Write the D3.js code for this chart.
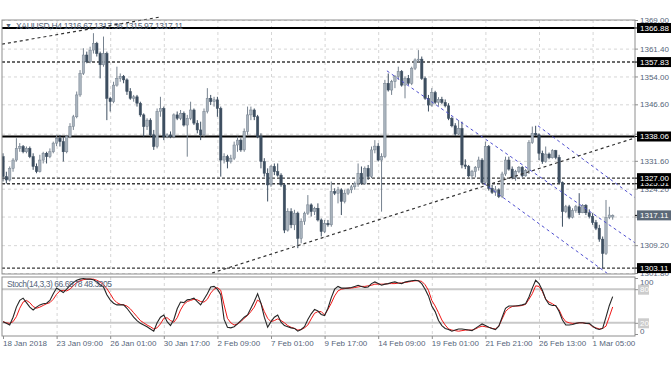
<!DOCTYPE html>
<html>
<head>
<meta charset="utf-8">
<script src="https://cdn.jsdelivr.net/npm/d3@7"></script>
<style>
  body { margin: 0; background: #fff; }
  svg { display: block; font-family: "Liberation Sans", Arial, sans-serif; }
</style>
</head>
<body>
<script>
// XAUUSD H4 bars, [open, high, low, close]
var candles = [
  [1332.7,1333.6,1326.1,1327.4],[1327.4,1328.7,1325.6,1326.5],[1326.5,1330.1,1326.1,1329.6],[1329.6,1332.3,1328.7,1331.8],[1331.8,1337.6,1331.4,1334.9],
  [1334.9,1336.3,1334.0,1335.4],[1335.4,1335.8,1333.6,1334.0],[1334.0,1335.4,1333.6,1334.9],[1334.9,1335.4,1332.3,1332.7],[1332.7,1333.6,1329.2,1330.1],
  [1330.1,1330.9,1328.3,1328.7],[1328.7,1333.2,1328.5,1331.8],[1331.8,1334.0,1330.9,1333.6],[1333.6,1334.0,1330.9,1332.7],[1332.7,1334.9,1332.3,1334.0],
  [1334.0,1336.7,1333.6,1336.3],[1336.3,1338.5,1335.5,1337.6],[1337.6,1338.5,1335.4,1336.7],[1336.7,1338.0,1331.4,1334.0],[1334.0,1338.5,1333.6,1338.0],
  [1338.0,1341.6,1337.6,1340.7],[1340.7,1343.8,1339.8,1343.3],[1343.3,1350.0,1342.9,1349.1],[1349.1,1355.7,1348.6,1354.8],[1354.8,1361.5,1354.4,1359.7],
  [1359.7,1360.6,1357.5,1357.9],[1357.9,1361.9,1357.5,1361.0],[1361.0,1365.5,1360.1,1362.8],[1362.8,1363.2,1359.3,1360.1],[1360.1,1360.6,1353.5,1357.1],
  [1357.1,1364.6,1356.6,1360.1],[1360.1,1360.6,1342.4,1348.2],[1348.2,1348.6,1344.7,1347.3],[1347.3,1352.6,1346.9,1351.7],[1351.7,1356.6,1351.3,1353.5],
  [1353.5,1354.8,1352.6,1354.0],[1354.0,1354.4,1352.2,1353.1],[1353.1,1353.5,1349.1,1350.0],[1350.0,1350.9,1347.8,1348.2],[1348.2,1349.1,1347.3,1348.6],
  [1348.6,1349.1,1346.0,1346.9],[1346.9,1347.3,1343.3,1343.8],[1343.8,1344.2,1338.0,1340.7],[1340.7,1342.9,1339.8,1342.4],[1342.4,1342.9,1338.0,1338.5],
  [1338.5,1339.8,1334.5,1335.4],[1335.4,1345.5,1334.9,1344.7],[1344.7,1348.6,1343.3,1345.5],[1345.5,1346.0,1337.1,1338.0],[1338.0,1338.9,1337.6,1338.5],
  [1338.5,1339.4,1337.6,1338.0],[1338.0,1344.2,1337.6,1343.8],[1343.8,1344.7,1342.4,1342.9],[1342.9,1345.1,1342.4,1344.2],[1344.2,1344.7,1340.7,1341.1],
  [1341.1,1343.8,1332.7,1342.9],[1342.9,1347.3,1342.4,1345.1],[1345.1,1345.5,1341.1,1341.6],[1341.6,1342.4,1338.9,1339.8],[1339.8,1342.0,1337.1,1338.5],
  [1338.5,1345.5,1338.0,1344.7],[1344.7,1350.9,1344.2,1348.2],[1348.2,1349.1,1346.4,1347.3],[1347.3,1348.6,1346.0,1347.8],[1347.8,1348.6,1343.3,1345.5],
  [1345.5,1346.0,1327.4,1331.8],[1331.8,1333.6,1330.9,1332.7],[1332.7,1333.2,1329.6,1331.4],[1331.4,1333.2,1330.9,1332.3],[1332.3,1336.7,1331.8,1335.8],
  [1335.8,1338.0,1334.0,1337.1],[1337.1,1337.6,1334.0,1334.5],[1334.5,1340.2,1334.0,1339.4],[1339.4,1346.0,1338.5,1343.8],[1343.8,1346.0,1342.4,1345.1],
  [1345.1,1345.5,1342.4,1343.3],[1343.3,1343.8,1337.6,1338.0],[1338.0,1338.9,1329.6,1331.4],[1331.4,1332.3,1327.4,1328.3],[1328.3,1329.6,1320.8,1325.2],
  [1325.2,1330.5,1324.7,1330.1],[1330.1,1330.9,1327.8,1328.7],[1328.7,1330.9,1327.4,1327.8],[1327.8,1328.3,1324.7,1325.2],[1325.2,1325.6,1312.4,1313.2],
  [1313.2,1319.0,1312.8,1318.1],[1318.1,1319.0,1313.7,1314.6],[1314.6,1318.6,1313.2,1317.7],[1317.7,1318.1,1308.4,1311.0],[1311.0,1316.3,1309.7,1315.5],
  [1315.5,1318.1,1314.6,1317.7],[1317.7,1322.5,1317.2,1319.9],[1319.9,1320.3,1316.8,1318.1],[1318.1,1319.4,1317.2,1319.0],[1319.0,1320.3,1315.5,1315.9],
  [1315.9,1316.3,1311.5,1312.8],[1312.8,1315.9,1312.4,1315.0],[1315.0,1315.9,1314.1,1314.6],[1314.6,1326.1,1314.1,1323.4],[1323.4,1324.3,1322.5,1323.0],
  [1323.0,1324.7,1320.3,1323.9],[1323.9,1324.3,1317.2,1320.8],[1320.8,1323.9,1320.3,1323.0],[1323.0,1324.3,1322.5,1323.9],[1323.9,1325.2,1323.0,1324.7],
  [1324.7,1326.1,1323.9,1325.6],[1325.6,1330.9,1324.7,1328.3],[1328.3,1330.1,1325.2,1325.6],[1325.6,1330.1,1325.2,1329.6],[1329.6,1330.5,1326.5,1327.4],
  [1327.4,1335.4,1327.0,1334.5],[1334.5,1337.1,1333.6,1335.5],[1335.5,1336.3,1331.4,1331.8],[1331.8,1333.6,1318.1,1332.7],[1332.7,1353.1,1332.3,1352.2],
  [1352.2,1354.8,1350.0,1350.4],[1350.4,1353.1,1349.1,1352.6],[1352.6,1354.4,1350.9,1354.0],[1354.0,1356.6,1353.1,1355.3],[1355.3,1355.7,1351.3,1351.7],
  [1351.7,1354.0,1348.2,1353.5],[1353.5,1354.4,1351.7,1352.2],[1352.2,1356.6,1351.7,1356.2],[1356.2,1358.8,1355.7,1358.4],[1358.4,1361.0,1357.7,1358.6],
  [1358.6,1359.3,1353.1,1353.5],[1353.5,1354.0,1347.8,1348.2],[1348.2,1349.1,1344.7,1346.4],[1346.4,1350.9,1346.0,1349.7],[1349.7,1350.2,1346.7,1347.1],
  [1347.1,1348.5,1346.2,1347.9],[1347.9,1348.6,1346.7,1347.1],[1347.1,1347.9,1345.8,1346.2],[1346.2,1346.9,1342.4,1342.9],[1342.9,1343.3,1340.5,1340.9],
  [1340.9,1341.6,1338.2,1338.7],[1338.7,1342.4,1338.4,1340.2],[1340.2,1342.0,1329.6,1330.5],[1330.5,1332.0,1329.4,1330.1],[1330.1,1330.5,1327.2,1327.6],
  [1327.6,1329.2,1326.7,1328.7],[1328.7,1330.2,1327.2,1329.9],[1329.9,1332.7,1329.0,1331.8],[1331.8,1332.3,1325.5,1325.8],[1325.8,1336.7,1325.5,1335.4],
  [1335.4,1335.8,1323.7,1324.3],[1324.3,1325.2,1322.8,1323.2],[1323.2,1324.9,1322.3,1323.9],[1323.9,1324.3,1321.7,1322.1],[1322.1,1328.7,1321.7,1328.1],
  [1328.1,1332.7,1327.6,1331.8],[1331.8,1332.7,1329.0,1329.4],[1329.4,1330.1,1326.7,1327.2],[1327.2,1329.2,1326.3,1328.7],[1328.7,1330.2,1328.3,1329.9],
  [1329.9,1330.2,1327.2,1327.6],[1327.6,1329.4,1327.4,1329.0],[1329.0,1337.1,1328.1,1336.4],[1336.4,1340.7,1336.1,1338.9],[1338.9,1340.9,1338.2,1338.5],
  [1338.5,1338.9,1331.8,1333.6],[1333.6,1334.3,1330.8,1331.4],[1331.4,1335.4,1331.1,1333.4],[1333.4,1333.8,1332.0,1332.4],[1332.4,1334.7,1332.2,1334.3],
  [1334.3,1334.5,1332.0,1332.5],[1332.5,1333.2,1325.5,1325.8],[1325.8,1326.1,1314.1,1318.1],[1318.1,1319.9,1317.7,1319.4],[1319.4,1319.9,1316.1,1316.6],
  [1316.6,1319.0,1316.3,1318.4],[1318.4,1319.9,1317.8,1319.4],[1319.4,1323.0,1317.2,1317.8],[1317.8,1320.1,1317.7,1319.8],[1319.8,1320.1,1317.2,1317.8],
  [1317.8,1318.7,1316.3,1316.8],[1316.8,1317.7,1314.6,1315.2],[1315.2,1315.9,1313.2,1313.7],[1313.7,1314.6,1310.1,1310.8],[1310.8,1311.5,1303.1,1307.0],
  [1307.0,1321.2,1306.6,1316.6],[1316.6,1319.4,1316.1,1317.2],[1316.67,1317.36,1315.97,1317.11]
];

// Stoch(14,3,3): main (%K) and signal (%D), one value per bar
var stochK = [
  22,19,16,30,48,60,64,56,48,43, 48,52,54,55,60,72,82,78,74,80,
  87,92,96,98,99,98,98,97,93,88, 84,70,61,55,52,52,52,46,38,30,
  24,19,16,13,9,5,20,30,34,22, 15,26,45,57,56,61,62,64,58,52,
  62,72,84,85,80,70,26,
  12,11,13,18,24,30,34,46,58,72, 55,30,12,22,30,34,21,15,13,11,
  10,5,8,13,26,36,44,41,35,33, 46,65,80,85,82,82,82,83,85,87,
  85,83,84,90,93,90,87,89,90,92, 93,91,90,93,94,95,96,95,90,80,
  68,50,40,24,15,10,8,5,7,9, 9,8,7,6,10,14,18,15,12,10,
  8,14,30,46,50,50,50,51,52,54, 66,82,96,90,78,62,53,51,51,40,
  25,16,16,17,19,20,20,19,19,14, 10,8,10,30,51,66.7
];
var stochD = [
  22,20,19,22,31,46,57,60,56,49, 46,48,51,54,56,62,71,77,78,77,
  80,86,92,95,97,98,98,98,96,93, 88,81,72,62,56,53,52,50,45,38,
  31,24,20,16,13,9,11,18,28,29, 24,21,29,43,53,58,60,62,61,58,
  57,62,73,80,83,78,52,
  28,20,16,18,22,28,33,40,48,61, 55,40,28,22,24,27,24,20,15,12,
  10,7,8,11,16,27,37,40,40,34, 44,55,68,77,80,81,82,82,83,84,
  85,85,86,87,89,89,89,89,90,90, 90,91,91,92,93,94,95,95,94,88,
  78,60,50,38,25,16,9,7,6,5, 6,7,7,7,9,12,14,13,12,10,
  9,14,27,40,46,49,50,50,51,53, 62,72,86,85,76,62,57,54,50,43,
  30,22,20,19,19,20,20,19,18,13, 11,9,10,14,31,48.3
];

var priceTicks = [1369.00, 1361.40, 1354.00, 1346.60, 1338.80, 1331.60, 1324.20, 1316.80, 1309.20, 1301.80];
var dateTickBars = [0, 16, 32, 48, 64, 80, 96, 112, 128, 144, 160, 176];
var dateLabels = ["18 Jan 2018", "23 Jan 09:00", "26 Jan 01:00", "30 Jan 17:00", "2 Feb 09:00", "7 Feb 01:00",
                  "9 Feb 17:00", "14 Feb 09:00", "19 Feb 01:00", "21 Feb 21:00", "26 Feb 13:00", "1 Mar 05:00"];

var solidLevels = [1366.88, 1338.06];
var dottedLevels = [1357.83, 1327.00, 1325.51, 1303.11];
var lastPrice = 1317.11;

// trend lines as [bar, price] pairs
var blackTrends = [
  [[-0.3, 1362.6], [46.9, 1369.8]],
  [[62.4, 1301.8], [188.7, 1337.7]]
];
var blueTrends = [
  [[114.6, 1355.5], [188.7, 1309.8]],
  [[143.5, 1325.6], [181.0, 1301.3]],
  [[159.7, 1340.9], [188.7, 1321.8]]
];

var title = "XAUUSD,H4  1316.67 1317.36 1315.97 1317.11";
var stochTitle = "Stoch(14,3,3) 66.6978 48.3205";

var width = 672, height = 372;
var left = 2, right = 635, mainTop = 20, mainBottom = 274, subTop = 277, subBottom = 336;

var textColor = "#55657a", gridColor = "#d6d6d6", frameColor = "#8e8e8e";
var bullFill = "#a9b3bd", bullLine = "#76828f", bearColor = "#3d4e60";

var svg = d3.select("body").append("svg").attr("width", width).attr("height", height);
svg.append("rect").attr("width", width).attr("height", height).attr("fill", "#fff");

var x = d3.scaleLinear().domain([0, candles.length - 1]).range([3, 612.7]);
var y = d3.scaleLinear().domain([1301.54, 1369.0]).range([mainBottom, mainTop]);
var ys = d3.scaleLinear().domain([0, 100]).range([334, 278]);

var allLevels = solidLevels.concat(dottedLevels, [lastPrice]);

var defs = svg.append("defs");
defs.append("clipPath").attr("id", "clipMain").append("rect")
    .attr("x", left).attr("y", mainTop).attr("width", right - left).attr("height", mainBottom - mainTop);
defs.append("clipPath").attr("id", "clipSub").append("rect")
    .attr("x", left).attr("y", subTop).attr("width", right - left).attr("height", subBottom - subTop);

// grid
var grid = svg.append("g");
grid.append("g")
    .attr("transform", "translate(" + left + ",0)")
    .call(d3.axisRight(y).tickValues(priceTicks).tickSize(right - left).tickFormat(""))
    .call(function(g){ g.select(".domain").remove(); });
[[mainTop, mainBottom], [subTop, subBottom]].forEach(function(p){
  grid.append("g")
      .attr("transform", "translate(0," + p[0] + ")")
      .call(d3.axisBottom(x).tickValues(dateTickBars.slice(1)).tickSize(p[1] - p[0]).tickFormat(""))
      .call(function(g){ g.select(".domain").remove(); });
});
grid.selectAll("line").attr("stroke", gridColor).attr("stroke-dasharray", "3,3");

// main panel
var main = svg.append("g").attr("clip-path", "url(#clipMain)");

main.selectAll(".solid-level").data(solidLevels).enter().append("line")
    .attr("x1", left).attr("x2", right)
    .attr("y1", function(d){ return y(d); }).attr("y2", function(d){ return y(d); })
    .attr("stroke", "#000").attr("stroke-width", 2);

main.selectAll(".dot-level").data(dottedLevels).enter().append("line")
    .attr("x1", left).attr("x2", right)
    .attr("y1", function(d){ return y(d); }).attr("y2", function(d){ return y(d); })
    .attr("stroke", "#3a3a3a").attr("stroke-width", 1.4).attr("stroke-dasharray", "3,2");

main.selectAll(".wick").data(candles).enter().append("line")
    .attr("x1", function(d, i){ return x(i); }).attr("x2", function(d, i){ return x(i); })
    .attr("y1", function(d){ return y(d[1]); }).attr("y2", function(d){ return y(d[2]); })
    .attr("stroke", function(d){ return d[3] >= d[0] ? bullLine : bearColor; })
    .attr("stroke-width", 1);

main.selectAll(".body").data(candles).enter().append("rect")
    .attr("x", function(d, i){ return x(i) - 1.2; })
    .attr("width", 2.4)
    .attr("y", function(d){ return y(Math.max(d[0], d[3])); })
    .attr("height", function(d){ return Math.max(1, Math.abs(y(d[0]) - y(d[3]))); })
    .attr("fill", function(d){ return d[3] >= d[0] ? bullFill : bearColor; })
    .attr("stroke", function(d){ return d[3] >= d[0] ? bullLine : bearColor; })
    .attr("stroke-width", 0.5);

var trendLine = d3.line().x(function(d){ return x(d[0]); }).y(function(d){ return y(d[1]); });

main.selectAll(".blue-trend").data(blueTrends).enter().append("path")
    .attr("d", trendLine).attr("fill", "none")
    .attr("stroke", "#4f4fcf").attr("stroke-width", 1).attr("stroke-dasharray", "3,3");

main.append("path").datum(blackTrends[1])
    .attr("d", trendLine).attr("fill", "none")
    .attr("stroke", "#333").attr("stroke-width", 1.2).attr("stroke-dasharray", "3,3");

// top-left line runs past the frame, as in the terminal
svg.append("path").datum(blackTrends[0])
    .attr("d", trendLine).attr("fill", "none")
    .attr("stroke", "#333").attr("stroke-width", 1.2).attr("stroke-dasharray", "3,3");

// stoch panel
var sub = svg.append("g").attr("clip-path", "url(#clipSub)");
sub.selectAll(".lvl").data([80, 20]).enter().append("line")
    .attr("x1", left).attr("x2", right)
    .attr("y1", function(d){ return ys(d); }).attr("y2", function(d){ return ys(d); })
    .attr("stroke", "#c9c9c9").attr("stroke-width", 2);

var stochLine = d3.line().x(function(d, i){ return x(i); }).y(function(d){ return ys(d); });
sub.append("path").datum(stochD).attr("d", stochLine)
    .attr("fill", "none").attr("stroke", "#f01818").attr("stroke-width", 1);
sub.append("path").datum(stochK).attr("d", stochLine)
    .attr("fill", "none").attr("stroke", "#262626").attr("stroke-width", 1.1);

// frames
svg.append("rect").attr("x", left).attr("y", mainTop).attr("width", right - left).attr("height", mainBottom - mainTop)
    .attr("fill", "none").attr("stroke", frameColor);
svg.append("rect").attr("x", left).attr("y", subTop).attr("width", right - left).attr("height", subBottom - subTop)
    .attr("fill", "none").attr("stroke", frameColor);

// price axis: a grid label that sits right under a level box is not printed
var yAxis = svg.append("g")
    .attr("transform", "translate(" + right + ",0)")
    .call(d3.axisRight(y).tickValues(priceTicks).tickSize(3).tickPadding(2)
      .tickFormat(function(d){
        var hidden = allLevels.some(function(v){ return Math.abs(y(v) - y(d)) < 4; });
        return hidden ? "" : d3.format(".2f")(d);
      }));
yAxis.select(".domain").remove();
yAxis.selectAll("line").attr("stroke", frameColor);
yAxis.selectAll("text").attr("fill", textColor).style("font-size", "8px");

function priceBox(v, fill, color){
  var g = svg.append("g").attr("transform", "translate(" + right + "," + y(v) + ")");
  g.append("line").attr("x1", 0).attr("x2", 3).attr("stroke", "#000");
  g.append("rect").attr("x", 2).attr("y", -5).attr("width", 34).attr("height", 10).attr("fill", fill);
  g.append("text").attr("x", 5).attr("dy", "0.33em").attr("fill", color)
      .style("font-size", "8px").text(d3.format(".2f")(v));
}
// lower levels first so the higher box sits on top where two touch
solidLevels.concat(dottedLevels).sort(d3.ascending).forEach(function(v){ priceBox(v, "#000", "#fff"); });
priceBox(lastPrice, "#5b6877", "#fff");

// stoch axis
var sAxis = svg.append("g")
    .attr("transform", "translate(" + right + ",0)")
    .call(d3.axisRight(ys).tickValues([100, 80, 20, 0]).tickSize(3).tickPadding(2));
sAxis.select(".domain").remove();
sAxis.selectAll("line").attr("stroke", frameColor);
sAxis.selectAll(".tick").filter(function(d){ return d === 80 || d === 20; })
    .insert("rect", "text").attr("x", 3).attr("y", -5).attr("width", 11).attr("height", 10).attr("fill", "#cccccc");
sAxis.selectAll("text")
    .attr("fill", function(d){ return d === 80 || d === 20 ? "#fff" : textColor; })
    .attr("y", function(d){ return d === 100 ? 4 : d === 0 ? -3 : 0; })
    .style("font-size", "8px");

// date axis
var xAxis = svg.append("g")
    .attr("transform", "translate(0," + subBottom + ")")
    .call(d3.axisBottom(x).tickValues(dateTickBars).tickSize(3).tickPadding(1)
      .tickFormat(function(d, i){ return dateLabels[i]; }));
xAxis.select(".domain").remove();
xAxis.selectAll("line").attr("stroke", frameColor);
xAxis.selectAll("text").attr("fill", textColor).attr("text-anchor", "start").attr("x", -0.5).style("font-size", "8px");

// titles
svg.append("text").attr("x", 5).attr("y", 28).attr("fill", textColor).style("font-size", "7px").text("\u25BC");
svg.append("text").attr("x", 16).attr("y", 29).attr("fill", textColor).style("font-size", "8.5px")
    .attr("textLength", 167).attr("lengthAdjust", "spacing").text(title);
svg.append("text").attr("x", 7).attr("y", 287).attr("fill", textColor).style("font-size", "8.5px")
    .attr("textLength", 105).attr("lengthAdjust", "spacing").text(stochTitle);
</script>
</body>
</html>
